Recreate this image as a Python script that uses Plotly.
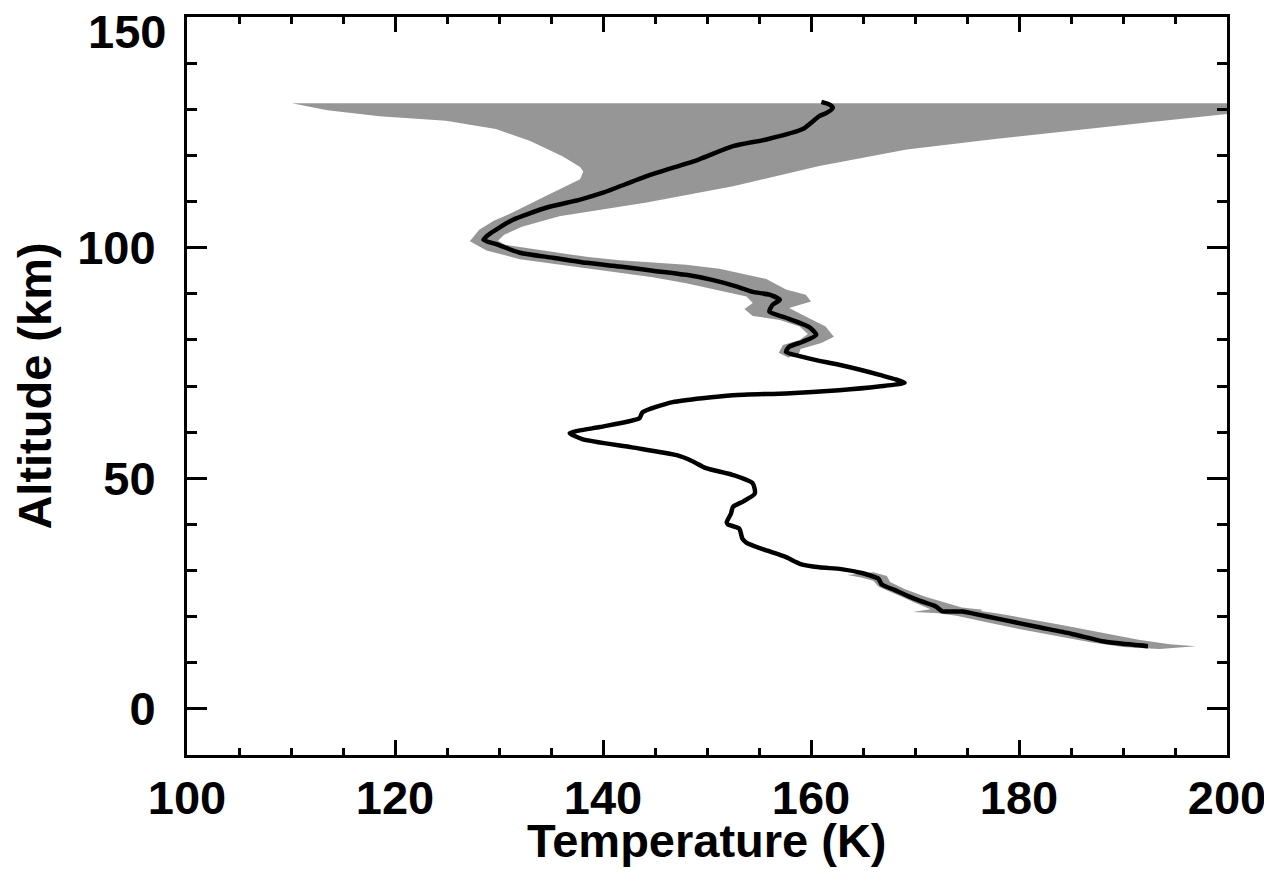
import plotly.graph_objects as go

# ---- data ----
# Temperature profile (K) vs altitude (km)
temp_K = [192.4, 190.0, 188.2, 185.0, 181.7, 178.5, 175.5, 174.6, 172.6, 172.0,
          170.5, 169.4, 168.0, 166.8, 166.5, 166.2, 165.0, 162.9, 160.8, 159.0,
          157.5, 155.8, 153.8, 153.4, 153.1, 152.0, 151.9, 152.3, 152.5, 153.5,
          154.6, 154.4, 152.5, 149.9, 148.5, 147.1, 142.8, 138.0, 136.8, 139.7,
          142.2, 143.5, 143.8, 146.7, 152.5, 157.6, 162.7, 166.5, 169.0, 166.6,
          162.7, 160.5, 159.2, 157.6, 157.9, 159.2, 160.5, 159.8, 157.6, 156.0,
          156.3, 157.0, 156.0, 154.4, 152.8, 150.5, 148.0, 144.8, 141.6, 138.4,
          135.2, 132.0, 129.8, 128.5, 129.0, 130.0, 131.3, 134.6, 137.8, 140.0,
          144.2, 149.2, 152.5, 155.8, 159.2, 160.8, 161.5, 162.1, 161.8, 161.0]
alt_km = [13.6, 14.1, 14.6, 16.3, 17.8, 19.3, 20.7, 21.1, 21.2, 22.2,
          23.4, 24.4, 25.8, 27.0, 28.2, 28.5, 29.4, 30.3, 30.7, 31.4,
          33.0, 34.3, 36.0, 36.9, 39.1, 40.0, 40.5, 42.3, 43.8, 45.0,
          46.7, 48.9, 50.7, 52.2, 53.8, 55.0, 56.7, 58.5, 59.8, 61.1,
          62.2, 63.0, 64.3, 66.5, 68.0, 68.4, 69.1, 69.9, 70.7, 72.4,
          74.6, 75.6, 76.3, 77.4, 78.5, 79.6, 81.1, 82.8, 84.8, 86.1,
          87.6, 88.7, 89.8, 90.4, 91.6, 93.0, 94.1, 95.0, 95.9, 96.7,
          97.8, 98.9, 100.7, 101.7, 102.8, 104.3, 106.0, 108.7, 110.4, 111.9,
          115.5, 119.1, 122.0, 123.5, 125.7, 128.5, 129.2, 130.3, 131.0, 131.6]

# Uncertainty envelope, upper part (outline of the shaded region)
band_upper_T = [110.1, 204.0, 204.0, 199.8, 193.4, 187.7, 185.8, 177.5, 169.2, 160.8,
                152.5, 144.2, 135.8, 132.2, 130.5, 129.9, 130.6, 132.0, 135.2, 138.4,
                141.6, 144.8, 148.0, 151.2, 152.8, 155.7, 157.6, 159.5, 160.0, 157.9,
                159.2, 161.4, 162.2, 161.0, 159.0, 158.8, 157.8, 156.9, 157.3, 158.9,
                159.7, 158.9, 157.0, 154.4, 153.6, 154.4, 153.8, 151.2, 148.0, 144.8,
                141.6, 138.4, 135.2, 132.0, 128.8, 127.2, 127.6, 128.1, 129.5, 131.3,
                134.5, 137.8, 138.1, 137.8, 136.1, 133.0, 129.7, 124.9, 118.5, 113.5,
                110.1]
band_upper_alt = [131.3, 131.3, 129.5, 128.9, 127.4, 126.0, 125.6, 123.5, 121.3, 117.7,
                  113.3, 109.8, 106.8, 104.5, 102.8, 101.5, 100.6, 100.15, 99.0, 98.0,
                  97.25, 96.7, 96.3, 95.4, 94.6, 93.2, 90.9, 89.8, 88.3, 86.9,
                  85.4, 82.9, 80.7, 79.3, 78.0, 76.8, 76.2, 77.2, 78.9, 80.0,
                  81.3, 82.9, 84.3, 85.2, 86.7, 88.0, 89.4, 90.7, 92.3, 93.6,
                  94.6, 95.6, 96.5, 97.5, 99.4, 101.4, 102.5, 103.9, 105.8, 107.6,
                  111.2, 114.8, 116.5, 117.5, 119.8, 123.1, 125.7, 127.5, 128.5, 129.8,
                  131.3]

# Uncertainty envelope, lower part
band_lower_T = [166.0, 167.3, 167.6, 169.0, 171.0, 173.2, 174.5, 176.5, 176.3, 178.0,
                181.0, 184.5, 188.0, 191.5, 194.5, 197.0, 193.5, 190.0, 187.0, 183.5,
                180.0, 177.0, 174.0, 172.0, 169.8, 171.5, 170.5, 168.5, 166.5, 166.0,
                164.8, 163.5, 166.0]
band_lower_alt = [29.6, 28.8, 27.5, 26.0, 24.3, 22.8, 22.0, 21.5, 21.2, 20.7,
                  19.5, 18.0, 16.5, 15.0, 14.0, 13.6, 13.0, 13.4, 14.4, 15.8,
                  17.3, 18.7, 20.2, 20.8, 21.0, 21.6, 22.5, 24.5, 26.5, 27.8,
                  28.5, 29.0, 29.6]

x_ticks = [100, 120, 140, 160, 180, 200]
y_ticks = [0, 50, 100, 150]
y_ticktext = ["0", "50", "100", ""]   # top label drawn separately (sits below the frame edge)
y_top_label = "150"
x_title = "Temperature (K)"
y_title = "Altitude (km)"

GRAY = "#969696"
FONT = "Liberation Sans, Arial, Helvetica, sans-serif"

fig = go.Figure()
fig.add_trace(go.Scatter(x=band_upper_T, y=band_upper_alt, mode="lines",
                         fill="toself", fillcolor=GRAY, line=dict(width=0, color=GRAY),
                         hoverinfo="skip", showlegend=False))
fig.add_trace(go.Scatter(x=band_lower_T, y=band_lower_alt, mode="lines",
                         fill="toself", fillcolor=GRAY, line=dict(width=0, color=GRAY),
                         hoverinfo="skip", showlegend=False))
fig.add_trace(go.Scatter(x=temp_K, y=alt_km, mode="lines",
                         line=dict(color="black", width=4.5, shape="spline", smoothing=0.6),
                         showlegend=False))

tickfont = dict(family=FONT, size=47, color="black", weight="bold")

fig.update_layout(
    width=1264, height=872,
    margin=dict(l=179, r=45, t=9, b=125),
    paper_bgcolor="white", plot_bgcolor="white",
    font=dict(family=FONT, color="black"),
    xaxis=dict(
        range=[100, 200], tickmode="array", tickvals=x_ticks,
        ticks="inside", ticklen=15, tickwidth=3, tickcolor="black",
        showline=True, linewidth=3, linecolor="black", mirror="allticks",
        minor=dict(dtick=5, tick0=100, ticks="inside", ticklen=7, tickwidth=2.5, tickcolor="black"),
        showgrid=False, zeroline=False, automargin=False,
        tickfont=tickfont, ticklabelstandoff=0, ticklabeloverflow="allow",
    ),
    yaxis=dict(
        range=[-10, 150], tickmode="array", tickvals=y_ticks, ticktext=y_ticktext,
        ticks="inside", ticklen=20, tickwidth=3, tickcolor="black",
        showline=True, linewidth=3, linecolor="black", mirror="allticks",
        minor=dict(dtick=10, tick0=0, ticks="inside", ticklen=10, tickwidth=2.5, tickcolor="black"),
        showgrid=False, zeroline=False, automargin=False,
        tickfont=tickfont, ticklabelstandoff=19, ticklabeloverflow="allow",
        title=dict(text=y_title, font=tickfont, standoff=16),
    ),
    annotations=[
        dict(text=x_title, xref="paper", yref="paper", x=0.5, y=0,
             xanchor="center", yanchor="middle", yshift=-85,
             showarrow=False, font=tickfont),
        dict(text=y_top_label, xref="paper", yref="y", x=0, y=y_ticks[-1],
             xanchor="right", yanchor="middle", xshift=-19, yshift=-14,
             showarrow=False, font=tickfont),
    ],
)

fig.write_html("out.html")
